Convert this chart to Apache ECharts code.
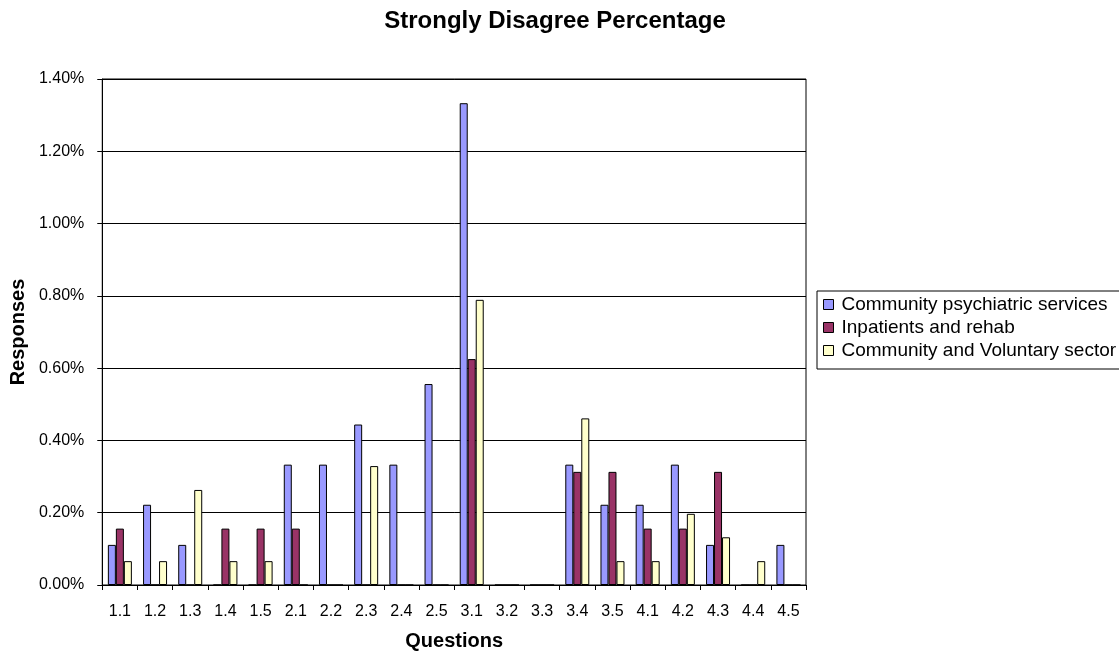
<!DOCTYPE html>
<html>
<head>
<meta charset="utf-8">
<script src="https://cdn.jsdelivr.net/npm/echarts@6/dist/echarts.min.js"></script>
<style>
  html, body { margin: 0; padding: 0; background: #fff; }
  #chart { width: 1119px; height: 656px; }
</style>
</head>
<body>
<div id="chart"></div>
<script>
// Question codes along the x axis
const questions = ['1.1','1.2','1.3','1.4','1.5','2.1','2.2','2.3','2.4','2.5',
                   '3.1','3.2','3.3','3.4','3.5','4.1','4.2','4.3','4.4','4.5'];

// Strongly-disagree share of responses, in percent
const communityPsychiatric = [0.111, 0.222, 0.111, 0, 0, 0.333, 0.333, 0.444, 0.333, 0.556,
                              1.333, 0, 0, 0.333, 0.222, 0.222, 0.333, 0.111, 0, 0.111];
const inpatientsRehab      = [0.156, 0, 0, 0.156, 0.156, 0.156, 0, 0, 0, 0,
                              0.625, 0, 0, 0.313, 0.313, 0.156, 0.156, 0.313, 0, 0];
const communityVoluntary   = [0.066, 0.066, 0.263, 0.066, 0.066, 0, 0, 0.329, 0, 0,
                              0.789, 0, 0, 0.461, 0.066, 0.066, 0.197, 0.132, 0.066, 0];

const seriesNames = ['Community psychiatric services', 'Inpatients and rehab', 'Community and Voluntary sector'];
const seriesColors = ['#9999FF', '#993366', '#FFFFCC'];
const seriesData = [communityPsychiatric, inpatientsRehab, communityVoluntary];

const font = 'Liberation Sans, Arial, sans-serif';
const chart = echarts.init(document.getElementById('chart'), null, { renderer: 'canvas' });

chart.setOption({
  animation: false,
  backgroundColor: '#fff',
  title: {
    text: 'Strongly Disagree Percentage',
    left: 550, top: 4, textAlign: 'center',
    textStyle: { fontFamily: font, fontSize: 24, fontWeight: 'bold', color: '#000' }
  },
  legend: {
    orient: 'vertical',
    left: 817, top: 291,
    padding: [4, 9, 9, 6],
    itemGap: 4,
    itemWidth: 10, itemHeight: 10,
    borderColor: '#000', borderWidth: 1,
    icon: 'rect',
    itemStyle: { borderColor: '#000', borderWidth: 1 },
    textStyle: { fontFamily: font, fontSize: 19, lineHeight: 19, color: '#000', padding: [0, 0, 0, 3] },
    data: seriesNames
  },
  grid: {
    left: 101, right: 1119 - 806, top: 79, bottom: 656 - 588,
    show: true, borderColor: '#000', borderWidth: 1
  },
  xAxis: {
    type: 'category',
    data: questions,
    name: 'Questions',
    nameLocation: 'middle',
    nameGap: 46,
    nameTextStyle: { fontFamily: font, fontSize: 20, fontWeight: 'bold', color: '#000' },
    axisLine: { lineStyle: { color: '#000' } },
    axisTick: { show: true, alignWithLabel: false, length: 5, lineStyle: { color: '#000' } },
    axisLabel: { fontFamily: font, fontSize: 16, color: '#000', margin: 19 }
  },
  yAxis: {
    type: 'value',
    min: 0, max: 1.4, interval: 0.2,
    name: 'Responses',
    nameLocation: 'middle',
    nameGap: 74,
    nameRotate: 90,
    nameTextStyle: { fontFamily: font, fontSize: 20, fontWeight: 'bold', color: '#000' },
    axisLine: { show: true, lineStyle: { color: '#000' } },
    axisTick: { show: true, length: 5, lineStyle: { color: '#000' } },
    axisLabel: {
      fontFamily: font, fontSize: 16, color: '#000', margin: 18,
      formatter: v => v.toFixed(2) + '%'
    },
    splitLine: { show: true, lineStyle: { color: '#000', width: 1 } }
  },
  series: seriesData.map((d, i) => ({
    name: seriesNames[i],
    type: 'bar',
    data: d,
    barWidth: 8,
    barGap: '0%',
    itemStyle: { color: seriesColors[i], borderColor: '#000', borderWidth: 1 }
  }))
});
</script>
</body>
</html>
